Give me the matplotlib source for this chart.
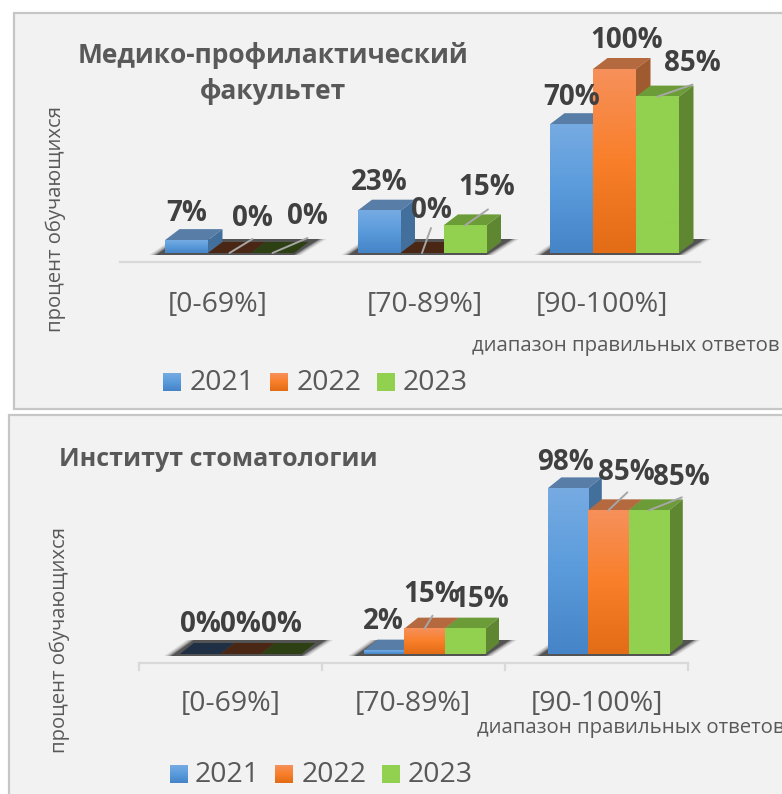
import matplotlib
matplotlib.use("Agg")
import matplotlib.pyplot as plt
import numpy as np
from matplotlib.colors import LinearSegmentedColormap
from matplotlib.patches import Polygon, Rectangle

plt.rcParams["font.family"] = ["Open Sans", "DejaVu Sans"]

CATEGORIES = ["[0-69%]", "[70-89%]", "[90-100%]"]
YEARS = ["2021", "2022", "2023"]

MED_2021 = [7, 23, 70]
MED_2022 = [0, 0, 100]
MED_2023 = [0, 15, 85]

STOM_2021 = [0, 2, 98]
STOM_2022 = [0, 15, 85]
STOM_2023 = [0, 15, 85]

XTITLE = "диапазон правильных ответов"
YTITLE = "процент обучающихся"
TITLE_MED = "Медико-профилактический\nфакультет"
TITLE_STOM = "Институт стоматологии"

# label offsets from the bar's top front edge, pixels (series, then group)
MED_LABEL_OFF = [[(0, -27), (0, -28), (0, -27)],
                 [(23, -34), (9, -42), (12, -28)],
                 [(35, -36), (22, -38), (35, -33)]]
MED_LEADERS = [[None, None, None],
               [(23, -14), (9, -25), None],
               [(35, -15), (23, -16), (35, -12)]]
STOM_LABEL_OFF = [[(0, -29), (-1, -29), (-2, -26)],
                  [(0, -29), (7, -34), (18, -38)],
                  [(0, -29), (16, -29), (33, -33)]]
STOM_LEADERS = [[None, None, None],
                [None, (8, -13), (19, -18)],
                [None, None, (33, -13)]]

FRONT = [["#76abe2", "#5a9bdc", "#4584c6"],
         ["#f6905a", "#f97f2a", "#e36c16"],
         ["#92d050", "#92d050", "#92d050"]]
SIDE = ["#436f9d", "#9f5a30", "#5f8732"]
TOP = ["#587ea8", "#b5693f", "#6c9c38"]
FLOOR = ["#1f3044", "#4a2715", "#2c4013"]

TEXT = "#595959"
LABEL = "#404040"
EDGE = "#c6c6c6"
PANEL = "#f2f2f2"

W, H = 782, 794
fig = plt.figure(figsize=(W / 100, H / 100), dpi=100, facecolor="white")
bg = fig.add_axes([0, 0, 1, 1])
bg.set_xlim(0, W)
bg.set_ylim(H, 0)
bg.axis("off")


def draw_chart(series, label_off, leaders, left, bar_w, spacing, base, ppu, depth):
    """3D-look clustered bars; x unit = one group, y unit = one percent."""
    first_center = left + 1.5 * bar_w
    ax_left = first_center - spacing / 2
    ax = fig.add_axes([ax_left / W, (H - base) / H, 3 * spacing / W, 100 * ppu / H])
    ax.patch.set_alpha(0)
    ax.axis("off")

    bw = bar_w / spacing
    dx, dy = depth[0] / spacing, depth[1] / ppu
    px_x, px_y = 1 / spacing, 1 / ppu

    # blurry ground shadow behind each group
    for g in range(3):
        x0 = g - 1.5 * bw
        x1 = g + 1.5 * bw
        for grow, alpha in zip([7, 5, 3, 1.5, 0], [0.10, 0.16, 0.22, 0.30, 0.55]):
            pts = [(x0 - (9 + grow) * px_x, -2 * px_y),
                   (x1 + grow * px_x, -2 * px_y),
                   (x1 + dx + (11 + grow) * px_x, dy + 3 * px_y),
                   (x0 + dx - grow * px_x, dy + 3 * px_y)]
            ax.add_patch(Polygon(pts, closed=True, fc="#303030", ec="none", alpha=alpha,
                                 zorder=1, clip_on=False))

    for s, values in enumerate(series):
        cmap = LinearSegmentedColormap.from_list("f", FRONT[s])
        for g, v in enumerate(values):
            x0 = g - 1.5 * bw + s * bw
            x1 = x0 + bw
            z = 2 + s + g * 3
            top_col = FLOOR[s] if v == 0 else TOP[s]
            ax.add_patch(Polygon([(x0, v), (x1, v), (x1 + dx, v + dy), (x0 + dx, v + dy)],
                                 closed=True, fc=top_col, ec="none", zorder=z, clip_on=False))
            if v > 0:
                ax.add_patch(Polygon([(x1, 0), (x1 + dx, dy), (x1 + dx, v + dy), (x1, v)],
                                     closed=True, fc=SIDE[s], ec="none", zorder=z, clip_on=False))
                ax.imshow(np.linspace(0, 1, 64).reshape(-1, 1), cmap=cmap, aspect="auto",
                          extent=(x0, x1, 0, v), zorder=z + 0.5, interpolation="bilinear")

    for s, values in enumerate(series):
        for g, v in enumerate(values):
            xc = g - bw + s * bw
            if leaders[s][g] is not None:
                ox, oy = leaders[s][g]
                ax.annotate("", xy=(xc, v), xytext=(ox, -oy), textcoords="offset pixels",
                            arrowprops=dict(arrowstyle="-", color="#a6a6a6", lw=1.4,
                                            shrinkA=0, shrinkB=0), zorder=30)
            ox, oy = label_off[s][g]
            ax.annotate(f"{v}%", xy=(xc, v), xytext=(ox, -oy), textcoords="offset pixels",
                        ha="center", va="center", fontsize=20, fontweight="bold",
                        color=LABEL, annotation_clip=False, zorder=40)

    ax.set_xlim(-0.5, 2.5)
    ax.set_ylim(0, 100)
    return ax


def legend(bx, tx, y, size):
    for i, year in enumerate(YEARS):
        cmap = LinearSegmentedColormap.from_list("f", FRONT[i])
        bg.imshow(np.linspace(0, 1, 32).reshape(-1, 1), cmap=cmap, aspect="auto",
                  extent=(bx[i], bx[i] + size, y + size / 2, y - size / 2), zorder=5)
        bg.text(tx[i], y + 1, year, fontsize=20.5, color=TEXT, ha="left", va="center", zorder=5)


# panels
bg.add_patch(Rectangle((14, 13), W + 10, 396, fc=PANEL, ec=EDGE, lw=1.6, zorder=0))
bg.add_patch(Rectangle((9, 415), W + 10, 400, fc=PANEL, ec=EDGE, lw=1.6, zorder=1))

# axis lines
bg.plot([120, 700], [261.5, 261.5], color="#d9d9d9", lw=1.6, zorder=2)
bg.plot([138.5, 688], [662.7, 662.7], color="#d9d9d9", lw=1.6, zorder=2)
for xt in [138.5, 322, 505, 688]:
    bg.plot([xt, xt], [662.7, 670], color="#d9d9d9", lw=1.6, zorder=2)

# titles
bg.text(273, 73.5, TITLE_MED, fontsize=19, fontweight="bold", color=TEXT, ha="center",
        va="center", linespacing=1.42, zorder=5)
bg.text(218.5, 460, TITLE_STOM, fontsize=18, fontweight="bold", color=TEXT, ha="center",
        va="center", zorder=5)

# category labels
for cat, x in zip(CATEGORIES, [218, 425, 602]):
    bg.text(x, 305, cat, fontsize=20.5, color=TEXT, ha="center", va="center", zorder=5)
for cat, x in zip(CATEGORIES, [231, 413, 597]):
    bg.text(x, 704, cat, fontsize=20.5, color=TEXT, ha="center", va="center", zorder=5)

# axis titles
bg.text(472, 346, XTITLE, fontsize=14.7, color=TEXT, ha="left", va="center", zorder=5, clip_on=True)
bg.text(477, 728, XTITLE, fontsize=14.7, color=TEXT, ha="left", va="center", zorder=5, clip_on=True)
bg.text(56, 219, YTITLE, fontsize=14.6, color=TEXT, rotation=90, ha="center", va="center", zorder=5)
bg.text(60, 640, YTITLE, fontsize=14.6, color=TEXT, rotation=90, ha="center", va="center", zorder=5)

legend([163, 270, 377], [190, 297, 403], 382.5, 18)
legend([170, 275, 382], [195, 302, 408], 774, 18)
bg.set_xlim(0, W)
bg.set_ylim(H, 0)

draw_chart([MED_2021, MED_2022, MED_2023], MED_LABEL_OFF, MED_LEADERS,
           left=165, bar_w=43, spacing=192.5, base=253, ppu=1.84, depth=(14.5, 11))
draw_chart([STOM_2021, STOM_2022, STOM_2023], STOM_LABEL_OFF, STOM_LEADERS,
           left=180, bar_w=40.5, spacing=183.8, base=654, ppu=1.69, depth=(13.7, 11))

fig.savefig("out.png", dpi=100)
